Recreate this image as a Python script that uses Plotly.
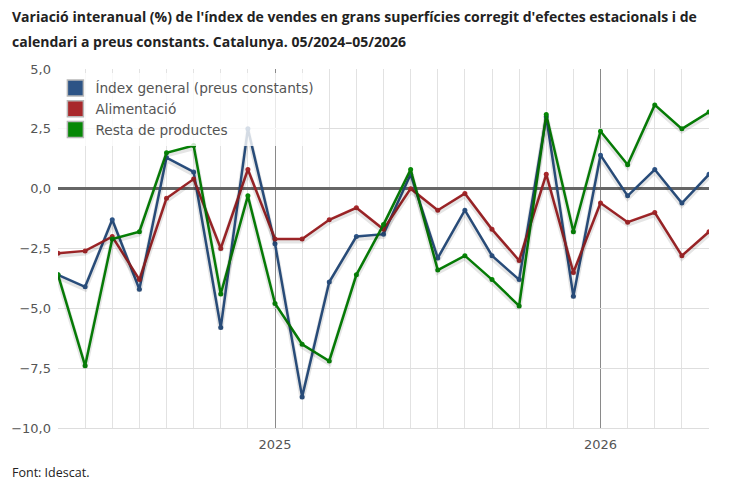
import plotly.graph_objects as go

months = ["05/2024","06/2024","07/2024","08/2024","09/2024","10/2024","11/2024","12/2024",
          "01/2025","02/2025","03/2025","04/2025","05/2025","06/2025","07/2025","08/2025",
          "09/2025","10/2025","11/2025","12/2025","01/2026","02/2026","03/2026","04/2026","05/2026"]
index_general = [-3.6,-4.1,-1.3,-4.2,1.3,0.7,-5.8,2.5,-2.3,-8.7,-3.9,-2.0,-1.9,0.6,-2.9,-0.9,
                 -2.8,-3.8,3.0,-4.5,1.4,-0.3,0.8,-0.6,0.6]
alimentacio = [-2.7,-2.6,-2.0,-3.8,-0.4,0.4,-2.5,0.8,-2.1,-2.1,-1.3,-0.8,-1.7,0.0,-0.9,-0.2,
               -1.7,-3.0,0.6,-3.5,-0.6,-1.4,-1.0,-2.8,-1.8]
resta = [-3.6,-7.4,-2.1,-1.8,1.5,1.8,-4.4,-0.3,-4.8,-6.5,-7.2,-3.6,-1.5,0.8,-3.4,-2.8,
         -3.8,-4.9,3.1,-1.8,2.4,1.0,3.5,2.5,3.2]
year_ticks = ["2025", "2026"]

series = [("Índex general (preus constants)", index_general, "#2d5486"),
          ("Alimentació", alimentacio, "#a8282b"),
          ("Resta de productes", resta, "#078807")]

x = list(range(len(months)))
year_pos = [months.index("01/2025"), months.index("01/2026")]

fig = go.Figure()
# shadows
for name, vals, col in series:
    fig.add_trace(go.Scatter(x=x, y=vals, mode="lines", line=dict(color="rgba(0,0,0,0.10)", width=5),
                             xaxis="x", yaxis="y2", showlegend=False, hoverinfo="skip"))
for name, vals, col in series:
    fig.add_trace(go.Scatter(x=x, y=vals, mode="lines+markers", name=name,
                             line=dict(color=col, width=2.5), marker=dict(color=col, size=5),
                             showlegend=False, text=months))
for name, vals, col in series:
    fig.add_trace(go.Scatter(x=[None], y=[None], mode="markers", name=name,
                             marker=dict(symbol="square", size=16, color=col,
                                         line=dict(color="#b8b8b8", width=1.5))))

fig.update_layout(
    width=750, height=498,
    margin=dict(l=58, r=41, t=69, b=70),
    paper_bgcolor="white", plot_bgcolor="white",
    separators=",.",
    font=dict(family="DejaVu Sans", size=13, color="#555"),
    xaxis=dict(range=[0, len(months) - 1], tickvals=year_pos, ticktext=year_ticks,
               showgrid=True, gridcolor="#8a8a8a", gridwidth=1,
               minor=dict(dtick=1, tick0=0, showgrid=True, gridcolor="#e2e2e2", gridwidth=1),
               zeroline=False, showline=True, linecolor="#dddddd", linewidth=1,
               ticks="", ticklabelstandoff=4, tickfont=dict(size=13, color="#555"), mirror=False),
    yaxis=dict(range=[-10, 5], dtick=2.5, tick0=0, tickformat=".1f",
               showgrid=True, gridcolor="#dedede", gridwidth=1,
               zeroline=True, zerolinecolor="#666", zerolinewidth=2.5,
               showline=False, ticklabelstandoff=6, tickfont=dict(size=13, color="#555")),
    yaxis2=dict(range=[-10 + 0.09, 5 + 0.09], overlaying="y", visible=False),
    legend=dict(x=-0.004, y=0.990, xanchor="left", yanchor="top", bgcolor="rgba(255,255,255,0.8)",
                font=dict(family="DejaVu Sans", size=13.7, color="#555"),
                itemsizing="trace", tracegroupgap=0),
    showlegend=True,
)
fig.add_annotation(text="<b>Variació interanual (%) de l'índex de vendes en grans superfícies corregit d'efectes estacionals i de</b>",
                   xref="paper", yref="paper", x=-48/651, y=1 + (69 - 17)/359, xanchor="left", yanchor="middle",
                   align="left", showarrow=False,
                   font=dict(family="Open Sans", size=14.0, color="#222"))
fig.add_annotation(text="<b>calendari a preus constants. Catalunya. 05/2024–05/2026</b>",
                   xref="paper", yref="paper", x=-48/651, y=1 + (69 - 41)/359, xanchor="left", yanchor="middle",
                   align="left", showarrow=False,
                   font=dict(family="Open Sans", size=14.0, color="#222"))
fig.add_annotation(text="Font: Idescat.", xref="paper", yref="paper", x=-48/651, y=-(473-428)/359,
                   xanchor="left", yanchor="middle", showarrow=False,
                   font=dict(family="Open Sans", size=12.5, color="#222"))
fig.write_html("out.html")
